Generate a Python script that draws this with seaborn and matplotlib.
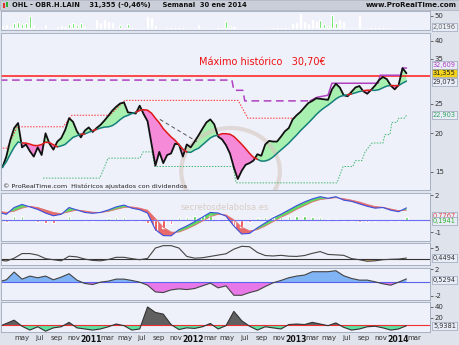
import numpy as np
import pandas as pd
import matplotlib
matplotlib.use("Agg")
import matplotlib.pyplot as plt
from matplotlib.patches import Rectangle, Ellipse
import seaborn as sns

sns.set_theme(style="white")
plt.rcParams["font.family"] = ["DejaVu Sans"]

# ---------------- data ----------------
# biweekly closes, 2010-02-19 .. 2014-01-31
close = [15.5, 16.8, 19.0, 20.8, 21.6, 18.0, 18.4, 17.5, 16.8, 18.0,
         17.0, 20.0, 18.5, 17.7, 18.8, 19.3, 20.5, 22.4, 21.8, 20.3,
         19.4, 20.4, 20.9, 20.2, 20.8, 21.3, 22.0, 22.8, 23.7, 24.4,
         25.0, 25.2, 23.4, 23.3, 23.2, 24.6, 23.1, 21.9, 18.5, 15.7,
         17.4, 16.0, 17.0, 17.2, 18.5, 18.4, 16.8, 18.4, 18.0, 18.8,
         19.7, 20.7, 21.7, 22.2, 21.4, 19.5, 19.1, 18.3, 17.2, 15.5,
         14.2, 15.1, 15.8, 16.0, 16.3, 17.1, 16.9, 18.4, 18.9, 18.8,
         18.8, 19.5, 20.3, 20.8, 22.2, 22.9, 23.5, 24.3, 25.1, 25.5,
         26.0, 25.9, 25.8, 25.7, 27.8, 29.0, 28.2, 26.6, 26.4, 27.3,
         28.2, 28.5, 27.4, 26.9, 27.7, 28.6, 29.8, 30.5, 30.0, 28.6,
         27.8, 28.7, 32.6, 31.355]
volume = [8, 12, 4, 20, 24, 16, 20, 48, 12, 0,
          0, 12, 0, 0, 4, 8, 4, 16, 20, 12,
          20, 8, 0, 0, 32, 20, 32, 24, 20, 0,
          12, 0, 16, 0, 0, 0, 0, 44, 40, 8,
          0, 0, 0, 0, 0, 0, 0, 0, 0, 0,
          12, 0, 0, 0, 0, 0, 0, 28, 8, 4,
          0, 0, 0, 0, 0, 0, 0, 0, 0, 0,
          0, 0, 0, 0, 16, 20, 56, 24, 16, 32,
          24, 32, 16, 8, 52, 20, 32, 24, 0, 0,
          0, 48, 0, 0, 0, 0, 0, 0, 0, 0,
          0, 0, 0, 0]

# 4-weekly indicator readings, 2010-02-05 .. 2014-01-31
macd = [0.6, 0.45, 1.0, 1.25, 1.05, 0.85, 0.55, 0.33, 0.45, 1.0,
        0.8, 0.6, 0.53, 0.6, 0.8, 1.05, 1.2, 0.95, 0.82, 0.55,
        -0.8, -1.28, -1.3, -0.8, -0.5, -0.15, 0.22, 0.6, 0.55, 0.3,
        -0.5, -1.15, -1.1, -0.65, -0.25, 0.15, 0.45, 0.8, 1.15, 1.45,
        1.7, 1.88, 1.75, 1.88, 1.6, 1.5, 1.3, 1.1, 0.95, 1.0,
        0.78, 0.66, 0.97]
signal = [0.7, 0.6, 0.7, 0.95, 1.1, 1.0, 0.8, 0.6, 0.5, 0.65,
          0.8, 0.72, 0.62, 0.6, 0.68, 0.85, 1.0, 1.05, 0.95, 0.78,
          0.1, -0.6, -1.0, -1.0, -0.75, -0.45, -0.1, 0.25, 0.45, 0.4,
          0.0, -0.6, -0.9, -0.8, -0.5, -0.15, 0.2, 0.5, 0.85, 1.15,
          1.45, 1.65, 1.72, 1.8, 1.72, 1.6, 1.45, 1.25, 1.08, 1.02,
          0.88, 0.75, 0.7767]
osc4 = [-0.4, -0.9, 0.4, 2.5, 2.5, 1.8, 0.2, -0.3, -0.8, 1.3,
        1.0, 0.0, -0.6, -0.8, -0.2, 0.8, 0.8, 0.2, -0.3, 0.3,
        5.0, 6.1, 6.1, 5.0, 1.2, 0.4, 0.6, 1.2, 1.8, 2.4,
        4.5, 5.8, 5.6, 3.0, 1.6, 1.4, 1.7, 1.3, 1.2, 1.6,
        2.6, 3.4, 2.1, 1.9, 1.7, 0.2, -0.3, -1.0, -0.8, -0.3,
        -0.1, 0.0, 0.4494]
osc5 = [0.1, 0.4, 1.55, 0.5, 0.95, 0.7, 0.95, 0.4, 0.8, 1.3,
        0.35, -0.15, -0.3, 0.05, 0.2, 0.5, 0.5, 0.3, 0.05, -0.4,
        -1.4, -1.5, -1.1, -0.95, -1.05, -0.9, -0.5, -0.1, -0.8, -0.5,
        -1.9, -1.9, -1.5, -1.2, -0.6, -0.05, 0.3, 0.7, 0.95, 1.1,
        1.6, 1.6, 1.6, 1.75, 1.0, 0.6, 0.35, 0.35, 0.1, -0.2,
        -0.4, 0.05, 0.5294]
osc6 = [4, 10, 16, 5, -2, 4, -4, 2, 4, 12,
        2, 0, -2, 0, 4, 9, 6, -2, 0, 40,
        30, 27, 8, -1, 2, 1, 4, 10, 0, 6,
        32, 15, 5, -2, 4, 2, 0, 8, 9, 8,
        12, 9, 6, 11, 3, -2, 0, 4, 5, 2,
        -2, 0, 5.9381]
osc6_level = 7

ath = 30.70
purple_dash_dates = ["2010-02-10", "2012-05-18", "2012-05-25", "2012-06-26", "2012-07-03", "2013-02-21"]
purple_dash_levels = [29.8, 29.8, 27.6, 27.6, 25.5, 25.5]
purple_dates = ["2013-02-21", "2013-03-18", "2013-04-26", "2013-05-10", "2013-10-22",
                "2013-10-29", "2014-01-10", "2014-01-17", "2014-01-31"]
purple_levels = [25.5, 26.2, 26.6, 29.1, 29.1, 30.9, 30.9, 32.609, 32.609]
red_dot_dates = ["2010-02-10", "2010-03-08", "2010-04-13", "2010-09-24", "2010-10-25",
                 "2011-03-10", "2011-05-02", "2012-06-09", "2012-07-14", "2012-12-29"]
red_dot_levels = [17.9, 17.9, 21.0, 21.0, 22.9, 22.9, 25.6, 25.6, 22.4, 22.4]
green_dates = ["2010-07-14", "2011-02-02", "2011-03-03", "2011-06-25", "2011-07-06", "2011-08-07",
               "2011-08-17", "2012-05-22", "2012-06-02", "2013-05-28", "2013-06-19", "2013-07-24",
               "2013-08-01", "2013-08-25", "2013-09-05", "2013-09-30", "2013-11-08", "2013-11-15",
               "2013-12-03", "2013-12-10", "2013-12-28", "2014-01-03", "2014-01-24", "2014-01-31"]
green_levels = [14.3, 14.3, 16.6, 16.6, 17.4, 17.4, 15.6, 15.6, 13.8, 13.8, 15.6, 15.6,
                16.3, 16.3, 17.4, 18.6, 18.6, 19.8, 19.8, 21.7, 21.7, 22.4, 22.4, 22.903]
gray_dash_dates = ["2011-09-04", "2012-01-14"]
gray_dash_levels = [22.2, 18.8]

month_ticks = pd.date_range("2010-05-01", "2014-03-01", freq="2MS")
month_names = {1: "", 3: "mar", 5: "may", 7: "jul", 9: "sep", 11: "nov"}

# ---------------- frames ----------------
wdates = pd.date_range(end="2014-01-31", periods=len(close), freq="14D")
mdates_ = pd.date_range(end="2014-01-31", periods=len(macd), freq="28D")
px = pd.DataFrame({"date": wdates, "close": close, "volume": volume})
px["ma"] = px["close"].rolling(10, min_periods=1).mean()
ind = pd.DataFrame({"date": mdates_, "macd": macd, "signal": signal,
                    "o4": osc4, "o5": osc5, "o6": osc6})
ind["hist"] = ind["macd"] - ind["signal"]

# ---------------- figure ----------------
W, H = 460, 345
fig = plt.figure(figsize=(4.6, 3.45), dpi=100)
fig.patch.set_facecolor("#dfe3ec")

def fx(x):
    return x / W

def fy(y):
    return 1 - y / H

def panel(y0, y1):
    ax = fig.add_axes([fx(1), fy(y1), (430 - 1) / W, (y1 - y0) / H])
    ax.set_facecolor("#eef0fa")
    for s in ax.spines.values():
        s.set_color("#9ea8bc")
        s.set_linewidth(0.6)
    ax.set_xlim(pd.Timestamp("2010-02-14"), pd.Timestamp("2014-04-25"))
    ax.yaxis.tick_right()
    ax.tick_params(axis="y", labelsize=5, colors="#333333", length=2, width=0.5, pad=1.5)
    ax.tick_params(axis="x", length=0, labelbottom=False)
    return ax

def clean(ax):
    ax.set_xlabel("")
    ax.set_ylabel("")

# header bar
fig.patches.append(Rectangle((0, fy(10)), 1, 10 / H, transform=fig.transFigure,
                             facecolor="#c9ced8", edgecolor="#a8afbd", lw=0.5))
fig.patches.append(Rectangle((fx(3), fy(8)), 2.2 / W, 5 / H, transform=fig.transFigure,
                             facecolor="#e03030", edgecolor="none"))
fig.patches.append(Rectangle((fx(6), fy(7)), 2.2 / W, 5 / H, transform=fig.transFigure,
                             facecolor="#30b030", edgecolor="none"))
fig.text(fx(12), fy(5), "OHL - OBR.H.LAIN    31,355 (-0,46%)     Semanal  30 ene 2014",
         fontsize=4.9, color="#111111", va="center", ha="left", fontweight="bold")
fig.text(fx(457), fy(5), "www.ProRealTime.com", fontsize=5, color="#111111",
         va="center", ha="right", fontweight="bold")

# ---- volume panel ----
axv = panel(11, 30)
axv.bar(px["date"], px["volume"], width=5, color="#1ed41e")
axv.set_ylim(-8, 68)
axv.set_yticks([50])
axv.set_yticklabels(["50"])

# ---- main price panel ----
axm = panel(33, 190)
axm.set_yscale("log")
axm.set_ylim(13.08, 42.4)
d = px["date"]
up = px["close"] >= px["ma"]
axm.fill_between(d, px["close"], px["ma"], where=up, interpolate=True,
                 color="#a8f0b0", lw=0)
axm.fill_between(d, px["close"], px["ma"], where=~up, interpolate=True,
                 color="#f58ad8", lw=0)
axm.add_patch(Ellipse((0.535, 0.12), 0.23, 0.55, transform=axm.transAxes, fill=False,
                      ec="#d8c8c0", lw=3, alpha=0.6))
axm.axhline(ath, color="#ff1a1a", lw=1.1)
sns.lineplot(x=pd.to_datetime(purple_dash_dates), y=purple_dash_levels, ax=axm,
             color="#b040c0", lw=1.1, linestyle=(0, (5, 3)))
sns.lineplot(x=pd.to_datetime(purple_dates), y=purple_levels, ax=axm,
             color="#b040c0", lw=1.1)
sns.lineplot(x=pd.to_datetime(red_dot_dates), y=red_dot_levels, ax=axm,
             color="#ff3030", lw=0.7, linestyle=(0, (1.5, 1.5)))
sns.lineplot(x=pd.to_datetime(green_dates), y=green_levels, ax=axm,
             color="#40b870", lw=0.7, linestyle=(0, (1.5, 1.5)))
sns.lineplot(x=pd.to_datetime(gray_dash_dates), y=gray_dash_levels, ax=axm,
             color="#555555", lw=0.7, linestyle=(0, (4, 3)))
ma_up = px["ma"].where(up | up.shift(1, fill_value=False))
ma_dn = px["ma"].where(~up | (~up).shift(1, fill_value=False))
sns.lineplot(x=d, y=px["close"], ax=axm, color="#111111", lw=1.3)
axm.plot(d, ma_up, color="#14807a", lw=1.1)
axm.plot(d, ma_dn, color="#e01818", lw=1.1)
axm.set_yticks([15, 20, 25, 35, 40])
axm.set_yticklabels(["15", "20", "25", "35", "40"])
axm.yaxis.set_minor_locator(matplotlib.ticker.NullLocator())
axm.set_xlim(pd.Timestamp("2010-02-14"), pd.Timestamp("2014-04-25"))
clean(axm)
fig.text(fx(262), fy(62), "Máximo histórico   30,70€", fontsize=7, color="#ee1111",
         ha="center", va="center")
fig.text(fx(3), fy(186), "© ProRealTime.com  Históricos ajustados con dividendos",
         fontsize=4.6, color="#222222", ha="left", va="center")

# ---- MACD panel ----
axc = panel(193, 241)
dm = ind["date"]
pos = ind["macd"] >= ind["signal"]
axc.fill_between(dm, ind["macd"], ind["signal"], where=pos, interpolate=True,
                 color="#60d860", lw=0)
axc.fill_between(dm, ind["macd"], ind["signal"], where=~pos, interpolate=True,
                 color="#e86a6a", lw=0)
hcol = np.where(ind["hist"] >= 0, "#3ccf3c", "#e83c3c")
axc.bar(dm, ind["hist"], width=9, color=hcol)
axc.axhline(0, color="#6a6ef0", lw=0.8)
sns.lineplot(x=dm, y=ind["signal"], ax=axc, color="#e07070", lw=0.6)
sns.lineplot(x=dm, y=ind["macd"], ax=axc, color="#3a4ee0", lw=0.8)
axc.set_ylim(-1.72, 2.18)
axc.set_yticks([2, -1])
axc.set_yticklabels(["2", "-1"])
clean(axc)

# ---- oscillator 4 ----
ax4 = panel(243, 265)
ax4.fill_between(dm, ind["o4"], 0, where=ind["o4"] < 0, interpolate=True,
                 color="#f0b868", lw=0)
ax4.axhline(0, color="#333333", lw=0.8)
sns.lineplot(x=dm, y=ind["o4"], ax=ax4, color="#444444", lw=0.8)
ax4.set_ylim(-2.7, 7.3)
ax4.set_yticks([5])
ax4.set_yticklabels(["5"])
clean(ax4)

# ---- oscillator 5 ----
ax5 = panel(268, 300)
ax5.fill_between(dm, ind["o5"], 0, where=ind["o5"] >= 0, interpolate=True,
                 color="#80b4f4", lw=0)
ax5.fill_between(dm, ind["o5"], 0, where=ind["o5"] < 0, interpolate=True,
                 color="#e878e8", lw=0)
ax5.axhline(0, color="#5a62f0", lw=0.8)
sns.lineplot(x=dm, y=ind["o5"], ax=ax5, color="#444444", lw=0.8)
ax5.set_ylim(-2.6, 2.15)
ax5.set_yticks([2, -2])
ax5.set_yticklabels(["2", "-2"])
clean(ax5)

# ---- oscillator 6 ----
ax6 = panel(302, 332)
ax6.fill_between(dm, ind["o6"], osc6_level, where=ind["o6"] >= osc6_level, interpolate=True,
                 color="#606060", lw=0)
ax6.fill_between(dm, ind["o6"], osc6_level, where=ind["o6"] < osc6_level, interpolate=True,
                 color="#5ee0a0", lw=0)
ax6.axhline(osc6_level, color="#ee3030", lw=0.8)
sns.lineplot(x=dm, y=ind["o6"], ax=ax6, color="#333333", lw=0.8)
ax6.set_ylim(-5.5, 49)
ax6.set_yticks([40, 20])
ax6.set_yticklabels(["40", "20"])
clean(ax6)
ax6.set_xticks(month_ticks)
ax6.set_xticklabels([str(t.year) if t.month == 1 else month_names[t.month] for t in month_ticks])
ax6.tick_params(axis="x", labelbottom=True, labelsize=5, colors="#333333", pad=2.5)
for t, lab in zip(month_ticks, ax6.get_xticklabels()):
    if t.month == 1:
        lab.set_fontweight("bold")
        lab.set_color("#111111")
        lab.set_fontsize(5.6)

# ---- value boxes ----
def vbox(y, text, fc, tc):
    fig.text(fx(433), fy(y), text, fontsize=4.8, color=tc, va="center", ha="left",
             bbox=dict(boxstyle="square,pad=0.18", fc=fc, ec="#9aa4b8", lw=0.5))

vbox(27, "2,0196", "#e8ecf6", "#666666")
vbox(65, "32,609", "#e8ecf6", "#b040c0")
vbox(73, "31,355", "#f2d21a", "#222222")
vbox(82, "29,075", "#e8ecf6", "#333333")
vbox(115, "22,903", "#e8ecf6", "#30a060")
vbox(216, "0,7767", "#e8ecf6", "#e04848")
vbox(221, "0,1941", "#e8ecf6", "#30b030")
vbox(258, "0,4494", "#e8ecf6", "#333333")
vbox(280, "0,5294", "#e8ecf6", "#333333")
vbox(326, "5,9381", "#e8ecf6", "#333333")

fig.text(fx(225), fy(208), "secretosdelabolsa.es", fontsize=6, color="#d6c9bf",
         ha="center", va="center", alpha=0.9)

fig.savefig("out.png", dpi=100, facecolor=fig.get_facecolor())
